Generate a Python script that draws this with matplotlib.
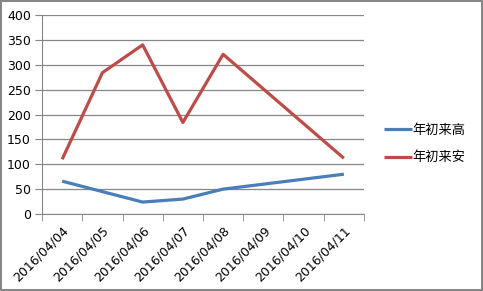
import numpy as np
import matplotlib.pyplot as plt

plt.rcParams['font.family'] = ['DejaVu Sans', 'Noto Sans CJK SC']

# Datos
fechas = ['2016/04/04', '2016/04/05', '2016/04/06', '2016/04/07',
          '2016/04/08', '2016/04/09', '2016/04/10', '2016/04/11']
alto = [66, 45, 24, 30, 50, np.nan, np.nan, 80]
seguro = [110, 284, 340, 184, 321, np.nan, np.nan, 112]
series = ['年初来高', '年初来安']
yticks = [0, 50, 100, 150, 200, 250, 300, 350, 400]

fig = plt.figure(figsize=(4.83, 2.91), dpi=100, edgecolor='#868686', linewidth=1.5)
ax = fig.add_axes([0.087, 0.2646, 0.6666, 0.6838])

x = np.arange(len(fechas))
for datos, color, nombre in [(alto, '#4A7EBB', series[0]), (seguro, '#BE4B48', series[1])]:
    d = np.array(datos, dtype=float)
    ok = ~np.isnan(d)
    ax.plot(x[ok], d[ok], color=color, linewidth=2.3, label=nombre, solid_capstyle='butt')

ax.set_xlim(-0.5, len(fechas) - 0.5)
ax.set_ylim(0, 400)
ax.set_yticks(yticks)
ax.yaxis.grid(True, color='#868686', linewidth=0.9)
ax.set_axisbelow(True)

ax.set_xticks(x)
ax.set_xticklabels(fechas, rotation=45, ha='right', rotation_mode='anchor', fontsize=9)
ax.set_xticks(np.arange(-0.5, len(fechas), 1), minor=True)
ax.tick_params(axis='x', which='major', length=0, pad=7)
ax.tick_params(axis='x', which='minor', length=5, color='#868686')
ax.tick_params(axis='y', length=5, color='#868686', labelsize=9, pad=3)

for s in ['top', 'right']:
    ax.spines[s].set_visible(False)
for s in ['left', 'bottom']:
    ax.spines[s].set_color('#868686')

fig.legend(loc='center left', bbox_to_anchor=(0.771, 0.505), frameon=False,
           handlelength=2.1, labelspacing=1.1, handletextpad=0.05,
           prop={'family': ['Noto Sans CJK SC', 'DejaVu Sans'], 'size': 9.5})

fig.savefig('out.png', dpi=100)
